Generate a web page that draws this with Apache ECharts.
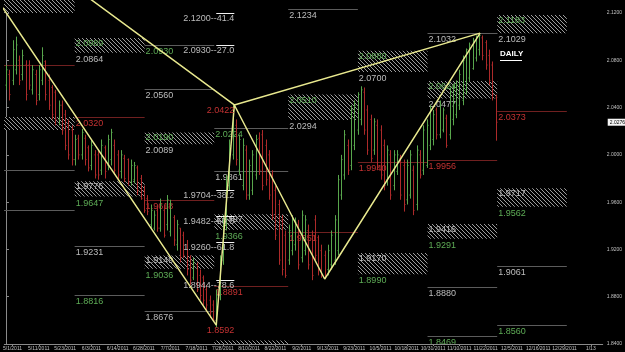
<!DOCTYPE html>
<html><head><meta charset="utf-8">
<script src="https://cdn.jsdelivr.net/npm/echarts@6/dist/echarts.min.js"></script>
<style>html,body{margin:0;padding:0;background:#000;}#c{width:625px;height:352px;}</style>
</head><body><div id="c"></div>
<script>
// ---------- data ----------
const tickLabels = ['5/1/2011','5/11/2011','5/23/2011','6/3/2011','6/14/2011','6/28/2011','7/7/2011','7/18/2011','7/28/2011','8/10/2011','8/22/2011','9/2/2011','9/13/2011','9/23/2011','10/5/2011','10/18/2011','10/31/2011','11/10/2011','11/22/2011','12/5/2011','12/16/2011','12/29/2011','1/13'];
// daily bars: [open, close, low, high]
const ohlc = [
[2.059,2.072,2.055,2.076],[2.068,2.051,2.046,2.072],[2.063,2.089,2.059,2.097],[2.072,2.093,2.068,2.100],[2.080,2.063,2.059,2.084],
[2.068,2.084,2.063,2.089],[2.076,2.051,2.046,2.080],[2.076,2.059,2.055,2.080],[2.055,2.072,2.051,2.076],[2.068,2.046,2.042,2.072],
[2.051,2.072,2.046,2.076],[2.063,2.084,2.059,2.091],[2.079,2.051,2.046,2.080],[2.063,2.042,2.038,2.068],[2.057,2.034,2.030,2.059],
[2.053,2.030,2.025,2.055],[2.030,2.042,2.025,2.046],[2.042,2.021,2.017,2.046],[2.034,2.008,2.004,2.038],[2.025,2.000,1.996,2.030],
[2.021,1.996,1.991,2.025],[1.996,2.013,1.991,2.017],[2.014,2.000,1.996,2.017],[2.000,2.019,1.996,2.022],[2.014,1.996,1.991,2.017],
[2.006,1.989,1.986,2.008],[1.991,2.008,1.987,2.013],[2.000,1.983,1.980,2.004],[2.000,1.983,1.979,2.004],[1.987,2.008,1.983,2.013],
[2.006,1.986,1.980,2.008],[1.991,2.013,1.987,2.017],[1.996,2.019,1.991,2.022],[2.008,1.987,1.983,2.013],[2.000,1.983,1.979,2.004],
[1.986,2.000,1.980,2.004],[1.997,1.980,1.977,2.000],[1.996,1.977,1.974,1.997],[1.977,1.991,1.974,1.996],[1.979,1.991,1.976,1.994],
[1.989,1.970,1.966,1.991],[1.980,1.963,1.962,1.983],[1.970,1.953,1.951,1.974],[1.963,1.952,1.949,1.966],[1.941,1.953,1.938,1.958],
[1.938,1.949,1.936,1.953],[1.953,1.938,1.935,1.958],[1.938,1.958,1.935,1.963],[1.953,1.932,1.930,1.958],[1.941,1.962,1.936,1.966],
[1.935,1.958,1.931,1.962],[1.947,1.928,1.923,1.949],[1.924,1.941,1.919,1.945],[1.938,1.913,1.909,1.938],[1.932,1.915,1.913,1.935],
[1.924,1.903,1.898,1.928],[1.913,1.894,1.890,1.915],[1.896,1.909,1.894,1.913],[1.907,1.886,1.884,1.909],[1.898,1.881,1.877,1.903],
[1.896,1.877,1.873,1.898],[1.886,1.873,1.867,1.890],[1.877,1.867,1.862,1.881],[1.873,1.860,1.859,1.877],[1.860,1.881,1.854,1.886],
[1.881,1.911,1.877,1.915],[1.911,1.945,1.907,1.949],[1.941,1.979,1.936,1.983],[1.974,2.008,1.970,2.013],[2.000,2.038,1.996,2.042],
[2.025,1.996,1.991,2.030],[1.987,2.013,1.983,2.017],[1.974,2.008,1.970,2.014],[2.004,1.966,1.962,2.008],[1.966,1.991,1.962,1.996],
[1.970,2.000,1.966,2.004],[1.983,2.013,1.979,2.017],[2.014,1.987,1.983,2.019],[2.017,1.974,1.970,2.021],[2.008,1.979,1.974,2.013],
[2.000,1.966,1.962,2.004],[1.983,1.949,1.945,1.987],[1.970,1.932,1.928,1.974],[1.958,1.911,1.907,1.962],[1.945,1.903,1.898,1.949],
[1.932,1.898,1.896,1.936],[1.911,1.936,1.907,1.941],[1.919,1.945,1.915,1.949],[1.924,1.943,1.919,1.947],[1.941,1.907,1.903,1.945],
[1.913,1.949,1.909,1.953],[1.919,1.945,1.915,1.949],[1.936,1.907,1.903,1.941],[1.932,1.898,1.894,1.936],[1.945,1.915,1.911,1.949],
[1.930,1.903,1.898,1.932],[1.919,1.898,1.896,1.924],[1.915,1.898,1.895,1.919],[1.903,1.919,1.898,1.924],[1.907,1.932,1.903,1.936],
[1.911,1.945,1.907,1.949],[1.919,1.979,1.915,1.983],[1.966,1.996,1.962,2.000],[1.983,2.017,1.979,2.021],[2.008,1.987,1.983,2.013],
[1.991,2.038,1.987,2.042],[2.008,2.042,2.004,2.046],[2.021,2.051,2.017,2.053],[2.030,2.055,2.025,2.058],[2.053,2.021,2.017,2.057],
[2.038,2.004,2.000,2.042],[2.030,1.997,1.994,2.034],[2.004,2.028,2.000,2.031],[2.025,1.991,1.987,2.030],[2.021,1.983,1.979,2.025],
[2.008,1.974,1.970,2.013],[1.979,2.004,1.974,2.008],[2.000,1.966,1.962,2.004],[1.974,2.000,1.970,2.004],[1.986,2.000,1.983,2.004],
[1.997,1.966,1.962,2.000],[1.991,1.958,1.952,1.996],[1.962,1.991,1.958,1.996],[1.966,2.000,1.963,2.004],[1.987,1.953,1.949,1.991],
[1.958,2.004,1.953,2.008],[2.000,1.983,1.980,2.004],[1.987,2.021,1.983,2.025],[1.991,2.025,1.989,2.030],[2.008,2.038,2.004,2.042],
[2.013,2.034,2.008,2.038],[2.038,2.017,2.013,2.040],[2.017,2.042,2.014,2.046],[2.021,2.038,2.019,2.040],[2.031,2.008,2.006,2.034],
[2.017,2.053,2.013,2.057],[2.030,2.057,2.025,2.059],[2.034,2.059,2.031,2.063],[2.042,2.068,2.038,2.072],[2.046,2.080,2.042,2.084],
[2.055,2.089,2.051,2.090],[2.065,2.093,2.062,2.095],[2.073,2.097,2.072,2.099],[2.082,2.100,2.079,2.101],[2.089,2.101,2.084,2.103],
[2.099,2.084,2.080,2.101],[2.095,2.076,2.072,2.097],[2.084,2.063,2.059,2.089],[2.076,2.051,2.046,2.079],[2.048,2.0276,2.012,2.051]
];
const lastPrice = 2.0276;

// harmonic pattern pivots X, A, B, C, D  (bar index, price)
const pivotIdx   = [-30.65, 64, 69.5, 97, 144.3];
const pivotPrice = [2.247, 1.856, 2.0422, 1.895, 2.103];
const pivotText  = ['1.8592', '2.0422'];   // labels under A and B

// zones of projected levels (bar index boundaries)
const zoneEdges = [-1.1, 20.9, 42.2, 63.4, 85.9, 107.1, 128.3, 149.5, 170.7];

// hatched zones
const boxZone   = [0, 0, 1, 2, 4, 5, 6, 7, 1, 2, 3, 5, 6, 7, 3];
const boxTop    = [2.1350, 2.0320, 2.0989, 2.0190, 2.0510, 2.0880, 2.0624, 2.1183, 1.9776, 1.9149, 1.9497, 1.9170, 1.9416, 1.9717, 1.8430];
const boxBottom = [2.1200, 2.0210, 2.0864, 2.0089, 2.0294, 2.0700, 2.0477, 2.1029, 1.9647, 1.9036, 1.9366, 1.8990, 1.9291, 1.9562, 1.8380];
const boxKind   = ['bare','bare','upper','upper','upper','upper','upper','upper','lower','lower','lower','lower','lower','lower','bare'];

// single level lines
const levelZone  = [0, 0, 0, 1, 1, 1, 2, 2, 2, 2, 3, 3, 3, 4, 4, 5, 6, 6, 6, 6, 7, 7, 7];
const levelPrice = [2.0760, 1.9872, 1.9533, 2.0320, 1.9231, 1.8816, 2.0930, 2.0560, 1.9618, 1.8676, 2.0224, 1.9861, 1.8891, 2.1234, 1.9351, 1.9940, 2.1032, 1.9956, 1.8880, 1.8469, 2.0373, 1.9061, 1.8560];
const levelKind  = ['stopBare','levelBare','levelBare','stop','level','target','target','level','stop','level','target','level','stop','level','stop','stop','level','stop','level','target','stop','level','target'];

// fibonacci retracement marks
const fibPrice = [2.1200, 2.0930, 1.9704, 1.9482, 1.9260, 1.8944];
const fibPct   = ['41.4', '27.0', '38.2', '50.0', '61.8', '78.6'];

// ---------- chart ----------
const FONT = '9px "Liberation Sans", Arial, sans-serif';
const pat = document.createElement('canvas'); pat.width = 4; pat.height = 4;
const g = pat.getContext('2d');
g.fillStyle = '#000'; g.fillRect(0, 0, 4, 4);
g.strokeStyle = '#9c9c9c'; g.lineWidth = 1;
g.beginPath(); g.moveTo(0,0); g.lineTo(4,4); g.moveTo(-1,3); g.lineTo(1,5); g.moveTo(3,-1); g.lineTo(5,1); g.stroke();

const GREEN = '#58a64c', RED = '#ad2a2a', LINEGREY = '#5c5c5c', TXT = '#bdbdbd', TXTG = '#5eac56', TXTR = '#c43232';
const levelStyle = {
  stop: [ '#702020', TXTR ], stopBare: ['#702020', null],
  level: [LINEGREY, TXT], levelBare: [LINEGREY, null], target: [LINEGREY, TXTG]
};

function renderBar(params, api) {
  const i = api.value(0), o = api.value(1), c = api.value(2), l = api.value(3), h = api.value(4);
  const pH = api.coord([i, h]), pL = api.coord([i, l]), pO = api.coord([i, o]), pC = api.coord([i, c]);
  const col = c >= o ? GREEN : RED;
  const x = Math.round(pH[0]) + 0.5;
  return { type: 'group', children: [
    { type: 'line', shape: { x1: x, y1: pH[1], x2: x, y2: pL[1] }, style: { stroke: col, lineWidth: 1 } },
    { type: 'line', shape: { x1: x - 1, y1: pO[1], x2: x, y2: pO[1] }, style: { stroke: col, lineWidth: 1 } },
    { type: 'line', shape: { x1: x, y1: pC[1], x2: x + 1, y2: pC[1] }, style: { stroke: col, lineWidth: 1 } }
  ]};
}
function renderBox(params, api) {
  const i = params.dataIndex;
  const p1 = api.coord([api.value(0), api.value(1)]);
  const p2 = api.coord([api.value(2), api.value(3)]);
  const kids = [{ type: 'rect', shape: { x: p1[0], y: p1[1], width: p2[0] - p1[0], height: p2[1] - p1[1] },
    style: { fill: { image: pat, repeat: 'repeat' } } }];
  const k = boxKind[i];
  if (k !== 'bare') {
    kids.push({ type: 'text', x: p1[0] + 1, y: p1[1] + 1, style: { text: boxTop[i].toFixed(4), fill: k === 'upper' ? TXTG : TXT, font: FONT, align: 'left', verticalAlign: 'top' } });
    kids.push({ type: 'text', x: p1[0] + 1, y: p2[1] + 2, style: { text: boxBottom[i].toFixed(4), fill: k === 'upper' ? TXT : TXTG, font: FONT, align: 'left', verticalAlign: 'top' } });
  }
  return { type: 'group', children: kids };
}
function renderLevel(params, api) {
  const i = params.dataIndex;
  const p1 = api.coord([api.value(0), api.value(2)]);
  const p2 = api.coord([api.value(1), api.value(2)]);
  const st = levelStyle[levelKind[i]];
  const y = Math.round(p1[1]) + 0.5;
  const kids = [{ type: 'line', shape: { x1: p1[0], y1: y, x2: p2[0], y2: y }, style: { stroke: st[0], lineWidth: 1 } }];
  if (st[1]) kids.push({ type: 'text', x: p1[0] + 1, y: y + 1.5, style: { text: levelPrice[i].toFixed(4), fill: st[1], font: FONT, align: 'left', verticalAlign: 'top' } });
  return { type: 'group', children: kids };
}
function renderFib(params, api) {
  const i = params.dataIndex;
  const p1 = api.coord([pivotIdx[1], api.value(0)]);
  const p2 = api.coord([pivotIdx[2], api.value(0)]);
  const y = Math.round(p1[1]) + 0.5;
  return { type: 'group', children: [
    { type: 'line', shape: { x1: p1[0], y1: y, x2: p2[0], y2: y }, style: { stroke: '#f0f0f0', lineWidth: 1 } },
    { type: 'text', x: p2[0], y: y + 1, style: { text: fibPrice[i].toFixed(4) + '--' + fibPct[i], fill: TXT, font: FONT, align: 'right', verticalAlign: 'top' } }
  ]};
}
function renderPivotLabel(params, api) {
  const i = params.dataIndex;
  const p = api.coord([api.value(0), api.value(1)]);
  const xr = api.coord([pivotIdx[2], api.value(1)])[0];
  return { type: 'text', x: xr, y: p[1] + 1, style: { text: pivotText[i], fill: TXTR, font: FONT, align: 'right', verticalAlign: 'top' } };
}
function renderLastPrice(params, api) {
  const p = api.coord([api.value(0), api.value(1)]);
  return { type: 'text', x: p[0] + 5, y: p[1], style: { text: api.value(1).toFixed(4), fill: '#000', font: '5px Arial',
    align: 'left', verticalAlign: 'middle', backgroundColor: '#f4f4f4', padding: [1, 2, 1, 2] } };
}

const xy = (idxArr, prArr, order) => order.map(k => [idxArr[k], prArr[k]]);
const X_MAX = 181.62;

const option = {
  backgroundColor: '#000',
  animation: false,
  title: { text: 'DAILY', left: 500, top: 50, padding: 0,
    textStyle: { color: '#fff', fontSize: 8, fontWeight: 'bold', fontFamily: '"Liberation Sans", Arial' } },
  graphic: [{ type: 'rect', shape: { x: 500, y: 60, width: 22, height: 1 }, style: { fill: '#fff' } }],
  grid: { left: 2, right: 22, top: 0, bottom: 8 },
  xAxis: {
    type: 'value', min: -0.5, max: X_MAX,
    axisLine: { show: true, lineStyle: { color: '#8a8a8a', width: 1 } },
    axisTick: { show: true, length: 2, lineStyle: { color: '#8a8a8a' }, customValues: tickLabels.map((t, k) => 2 + 8 * k) },
    axisLabel: { color: '#c0c0c0', fontSize: 5, margin: 2, fontFamily: 'Arial',
      customValues: tickLabels.map((t, k) => 2 + 8 * k),
      formatter: v => tickLabels[Math.round((v - 2) / 8)] || '' },
    splitLine: { show: false }
  },
  yAxis: {
    type: 'value', position: 'right', min: 1.84, max: 2.131, interval: 0.04,
    axisLine: { show: true, lineStyle: { color: '#8a8a8a', width: 1 } },
    axisTick: { show: true, length: 3, lineStyle: { color: '#8a8a8a' } },
    axisLabel: { color: '#c0c0c0', fontSize: 5, margin: 4, fontFamily: 'Arial', showMaxLabel: false,
      formatter: v => v.toFixed(4) },
    splitLine: { show: false }
  },
  series: [
    { type: 'custom', clip: true, renderItem: renderBox, silent: true,
      data: boxTop.map((t, i) => [zoneEdges[boxZone[i]], t, zoneEdges[boxZone[i] + 1], boxBottom[i]]), z: 1 },
    { type: 'custom', clip: true, renderItem: renderLevel, silent: true,
      data: levelPrice.map((p, i) => [zoneEdges[levelZone[i]], zoneEdges[levelZone[i] + 1], p]), z: 2 },
    { type: 'custom', clip: true, renderItem: renderBar, silent: true,
      data: ohlc.map((b, i) => [i, b[0], b[1], b[2], b[3]]), z: 3 },
    { type: 'custom', clip: true, renderItem: renderFib, silent: true,
      data: fibPrice.map(p => [p]), z: 4 },
    { type: 'line', clip: true, silent: true, symbol: 'none', z: 5,
      lineStyle: { color: '#e8e88e', width: 1.5 },
      data: xy(pivotIdx, pivotPrice, [0, 1, 2, 3, 4]) },
    { type: 'line', clip: true, silent: true, symbol: 'none', z: 5,
      lineStyle: { color: '#e8e88e', width: 1.5 },
      data: xy(pivotIdx, pivotPrice, [0, 2, 4]) },
    { type: 'custom', clip: false, renderItem: renderPivotLabel, silent: true, z: 6,
      data: [[pivotIdx[1], pivotPrice[1]], [pivotIdx[2], pivotPrice[2]]] },
    { type: 'custom', clip: false, renderItem: renderLastPrice, silent: true, z: 7,
      data: [[X_MAX, lastPrice]] }
  ]
};
const chart = echarts.init(document.getElementById('c'));
chart.setOption(option);
</script>
</body></html>
